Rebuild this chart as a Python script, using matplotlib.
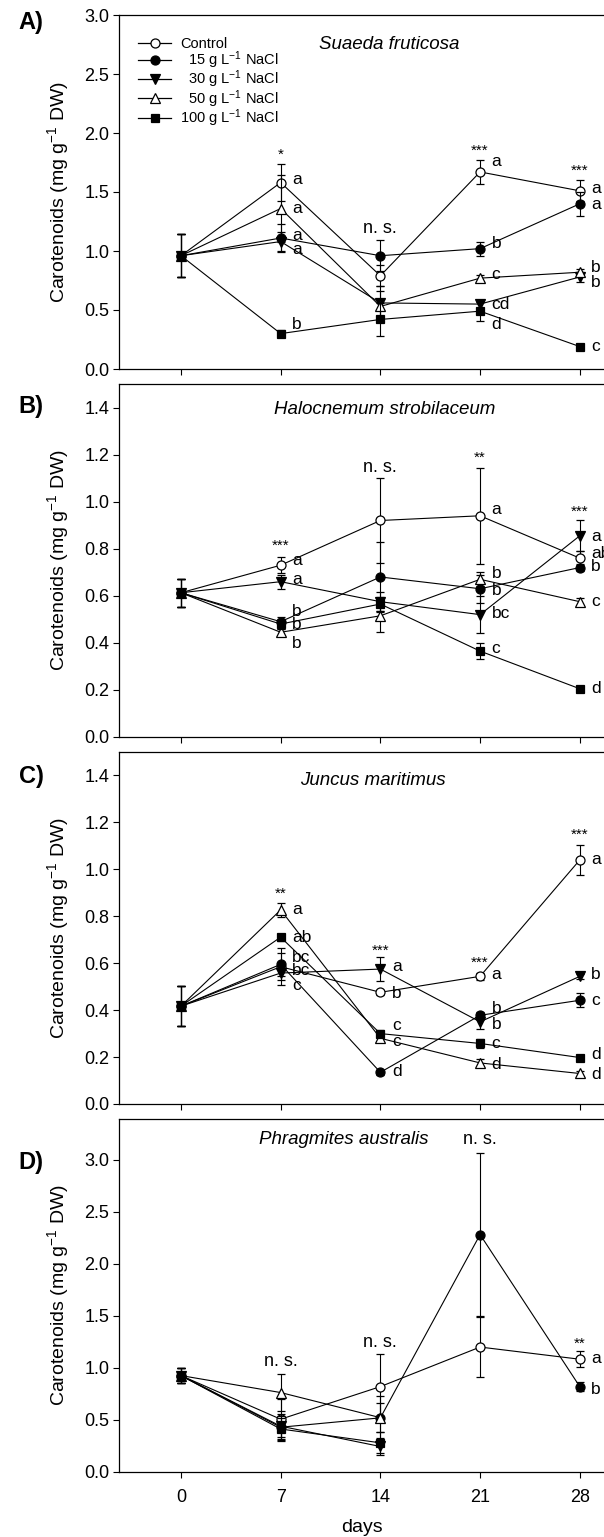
import matplotlib
matplotlib.use("Agg")
import matplotlib.pyplot as plt
from matplotlib.lines import Line2D
import numpy as np

plt.rcParams['font.family'] = ['Liberation Sans', 'DejaVu Sans']
plt.rcParams['mathtext.fontset'] = 'custom'
plt.rcParams['mathtext.rm'] = 'Liberation Sans'
plt.rcParams['mathtext.it'] = 'Liberation Sans:italic'

days = [0, 7, 14, 21, 28]
treatments = ['Control', '  15 g L$^{-1}$ NaCl', '  30 g L$^{-1}$ NaCl',
              '  50 g L$^{-1}$ NaCl', '100 g L$^{-1}$ NaCl']
species = ['Suaeda fruticosa', 'Halocnemum strobilaceum',
           'Juncus maritimus', 'Phragmites australis']
nan = np.nan

# means and errors, rows = Control, 15, 30, 50, 100 g/L NaCl
suaeda_mean = [[0.96, 1.58, 0.79, 1.67, 1.51],
               [0.96, 1.11, 0.96, 1.02, 1.40],
               [0.96, 1.08, 0.56, 0.55, 0.78],
               [0.96, 1.36, 0.53, 0.77, 0.82],
               [0.96, 0.30, 0.42, 0.49, 0.19]]
suaeda_err = [[0.18, 0.16, 0.09, 0.10, 0.09],
              [0.18, 0.12, 0.13, 0.06, 0.10],
              [0.18, 0.08, 0.14, 0.03, 0.04],
              [0.18, 0.28, 0.13, 0.03, 0.03],
              [0.18, 0.03, 0.14, 0.08, 0.02]]

halo_mean = [[0.613, 0.73, 0.92, 0.94, 0.76],
             [0.613, 0.49, 0.68, 0.63, 0.72],
             [0.613, 0.66, 0.575, 0.52, 0.855],
             [0.613, 0.445, 0.515, 0.67, 0.575],
             [0.613, 0.48, 0.565, 0.365, 0.205]]
halo_err = [[0.06, 0.035, 0.18, 0.205, 0.03],
            [0.06, 0.02, 0.15, 0.06, 0.015],
            [0.06, 0.03, 0.04, 0.08, 0.065],
            [0.06, 0.015, 0.07, 0.03, 0.015],
            [0.06, 0.02, 0.03, 0.033, 0.01]]

juncus_mean = [[0.417, 0.585, 0.476, 0.544, 1.04],
               [0.417, 0.595, 0.135, 0.378, 0.442],
               [0.417, 0.558, 0.575, 0.35, 0.544],
               [0.417, 0.827, 0.28, 0.175, 0.13],
               [0.417, 0.711, 0.30, 0.258, 0.198]]
juncus_err = [[0.085, 0.08, 0.01, 0.015, 0.063],
              [0.085, 0.05, 0.01, 0.015, 0.03],
              [0.085, 0.03, 0.05, 0.03, 0.01],
              [0.085, 0.03, 0.015, 0.015, 0.01],
              [0.085, 0.015, 0.015, 0.02, 0.01]]

phrag_mean = [[0.926, 0.507, 0.82, 1.2, 1.083],
              [0.926, 0.43, 0.52, 2.28, 0.82],
              [0.926, 0.44, 0.245, nan, nan],
              [0.926, 0.763, 0.522, nan, nan],
              [0.926, 0.413, 0.28, nan, nan]]
phrag_err = [[0.075, 0.19, 0.31, 0.29, 0.075],
             [0.075, 0.13, 0.14, 0.78, 0.045],
             [0.075, 0.10, 0.08, nan, nan],
             [0.075, 0.18, 0.21, nan, nan],
             [0.075, 0.11, 0.10, nan, nan]]

# significance of the treatment effect per sampling day
sig_a = ['', '*', 'n. s.', '***', '***']
sig_b = ['', '***', 'n. s.', '**', '***']
sig_c = ['', '**', '***', '***', '***']
sig_d = ['', 'n. s.', 'n. s.', 'n. s.', '**']

# letter groups: (day, label height, letter)
letters_a = [(7, 1.61, 'a'), (7, 1.36, 'a'), (7, 1.135, 'a'), (7, 1.01, 'a'), (7, 0.38, 'b'),
             (21, 1.76, 'a'), (21, 1.065, 'b'), (21, 0.80, 'c'), (21, 0.55, 'cd'), (21, 0.38, 'd'),
             (28, 1.53, 'a'), (28, 1.39, 'a'), (28, 0.86, 'b'), (28, 0.73, 'b'), (28, 0.19, 'c')]
letters_b = [(7, 0.75, 'a'), (7, 0.67, 'a'), (7, 0.532, 'b'), (7, 0.476, 'b'), (7, 0.398, 'b'),
             (21, 0.967, 'a'), (21, 0.696, 'b'), (21, 0.622, 'b'), (21, 0.523, 'bc'), (21, 0.377, 'c'),
             (28, 0.854, 'a'), (28, 0.78, 'ab'), (28, 0.724, 'b'), (28, 0.575, 'c'), (28, 0.207, 'd')]
letters_c = [(7, 0.827, 'a'), (7, 0.711, 'ab'), (7, 0.623, 'bc'), (7, 0.57, 'bc'), (7, 0.506, 'c'),
             (14, 0.584, 'a'), (14, 0.473, 'b'), (14, 0.333, 'c'), (14, 0.265, 'c'), (14, 0.14, 'd'),
             (21, 0.552, 'a'), (21, 0.407, 'b'), (21, 0.34, 'b'), (21, 0.258, 'c'), (21, 0.17, 'd'),
             (28, 1.04, 'a'), (28, 0.552, 'b'), (28, 0.442, 'c'), (28, 0.212, 'd'), (28, 0.126, 'd')]
letters_d = [(28, 1.093, 'a'), (28, 0.795, 'b')]

# figure layout in pixels
W, H = 604, 1537
x0_px, x1_px = 119, 605
panels = [
    ('A)', 15, 369, 3.0, np.arange(0, 3.01, 0.5), suaeda_mean, suaeda_err, sig_a, letters_a,
     (14.6, 2.75), [1.86, 1.19, 1.90, 1.73], 23),
    ('B)', 384, 737, 1.5, np.arange(0, 1.41, 0.2), halo_mean, halo_err, sig_b, letters_b,
     (14.3, 1.39), [0.837, 1.146, 1.21, 0.98], 407),
    ('C)', 752, 1104, 1.5, np.arange(0, 1.41, 0.2), juncus_mean, juncus_err, sig_c, letters_c,
     (13.5, 1.377), [0.92, 0.676, 0.626, 1.17], 776),
    ('D)', 1119, 1472, 3.39, np.arange(0, 3.01, 0.5), phrag_mean, phrag_err, sig_d, letters_d,
     (11.4, 3.19), [1.06, 1.24, 3.19, 1.285], 1162),
]

markers = ['o', 'o', 'v', '^', 's']
faces = ['white', 'black', 'black', 'white', 'black']
sizes = [6.5, 6.5, 6.5, 6.5, 6]

fig = plt.figure(figsize=(W / 100, H / 100), dpi=100)

for i, (tag, top, bot, ymax, yticks, mean, err, sig, letters, title_xy, sig_y, tag_y) in enumerate(panels):
    ax = fig.add_axes([x0_px / W, 1 - bot / H, (x1_px - x0_px) / W, (bot - top) / H])
    for k in range(5):
        ax.errorbar(days, mean[k], yerr=err[k], color='black', lw=0.8,
                    marker=markers[k], mfc=faces[k], mec='black', mew=0.9, ms=sizes[k],
                    elinewidth=0.8, capsize=3, capthick=0.8, zorder=3 + k)
    ax.set_xlim(-4.35, 29.77)
    ax.set_ylim(0, ymax)
    ax.set_xticks(days)
    ax.set_yticks(yticks)
    ax.set_yticklabels(['%.1f' % v for v in yticks])
    ax.tick_params(direction='out', length=4, width=0.8, labelsize=13, pad=3)
    ax.tick_params(axis='x', pad=8)
    if i < 3:
        ax.set_xticklabels([])
    for s in ax.spines.values():
        s.set_linewidth(0.9)

    ax.text(title_xy[0], title_xy[1], species[i], fontsize=13.5, style='italic',
            ha='center', va='center')
    for d, lab, yy in zip(days[1:], sig[1:], sig_y):
        if lab.startswith('*'):
            ax.annotate(lab, (d, yy), xytext=(0, -4), textcoords='offset points',
                        fontsize=11, ha='center', va='center')
        else:
            ax.text(d, yy, lab, fontsize=13, ha='center', va='center')
    for d, yy, lab in letters:
        ax.text(d + 0.8, yy, lab, fontsize=12.5, ha='left', va='center')

    fig.text(31 / W, 1 - tag_y / H, tag, fontsize=17, fontweight='bold',
             ha='center', va='center')
    fig.text(58 / W, 1 - (top + bot) / 2 / H, 'Carotenoids (mg g$^{-1}$ DW)',
             fontsize=14, rotation=90, ha='center', va='center')

    if i == 0:
        handles = [Line2D([], [], color='black', lw=0.9, marker=markers[k], mfc=faces[k],
                          mec='black', mew=0.9, ms=sizes[k]) for k in range(5)]
        ax.legend(handles, treatments, loc='upper left', bbox_to_anchor=(0.0386, 0.937),
                  frameon=False, fontsize=10.5, handlelength=2.3, handletextpad=0.6,
                  labelspacing=-0.15, borderaxespad=0, borderpad=0, numpoints=1)

fig.text((x0_px + x1_px) / 2 / W, 1 - 1527 / H, 'days', fontsize=14, ha='center', va='center')

fig.savefig('out.png', dpi=100)
